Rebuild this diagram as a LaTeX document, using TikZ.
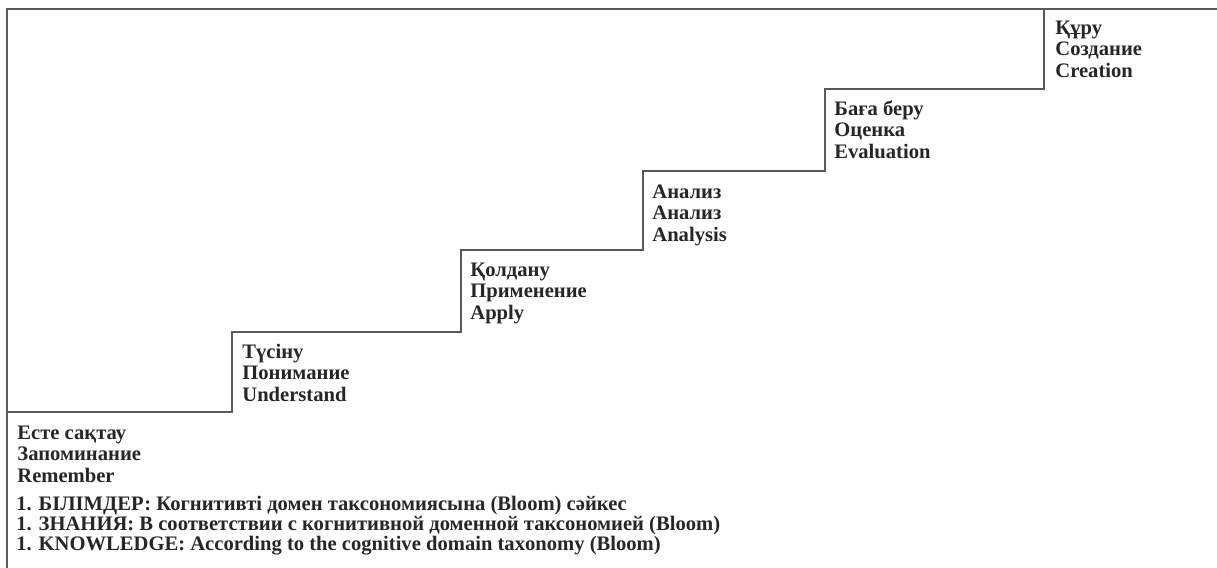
\documentclass[tikz,border=0pt]{standalone}
\usepackage{fontspec}
\setmainfont{Liberation Serif}

\begin{document}
\begin{tikzpicture}[x=0.5pt,y=-0.5pt,
  stair/.style={draw=black!65, line width=1pt},
  lbl/.style={anchor=base west, inner sep=0pt, align=left, text=black!85,
    font=\bfseries\fontsize{10.3}{10.6}\selectfont},
  note/.style={anchor=base west, inner sep=0pt, align=left, text=black!85,
    font=\bfseries\fontsize{10.3}{10}\selectfont}]
 \useasboundingbox (0,0) rectangle (1217,568);
 \draw [stair] (7,568) -- (7,9) -- (1217,9);
 \draw [stair] (7,412) -- (232,412) -- (232,332) -- (461,332) -- (461,250) -- (643,250)
   -- (643,171) -- (825,171) -- (825,89) -- (1044,89) -- (1044,9);
 \node [lbl] (remember) at (17,482) {Есте сақтау\\Запоминание\\Remember};
 \node [lbl] (understand) at (242,401) {Түсіну\\Понимание\\Understand};
 \node [lbl] (apply) at (470,319) {Қолдану\\Применение\\Apply};
 \node [lbl] (analysis) at (652,241) {Анализ\\Анализ\\Analysis};
 \node [lbl] (evaluation) at (834,158) {Баға беру\\Оценка\\Evaluation};
 \node [lbl] (creation) at (1055,77) {Құру\\Создание\\Creation};
 % bottom notes
 \node [note] (knowledge) at (16,550) {1. БІЛІМДЕР: Когнитивті домен таксономиясына (Bloom) сәйкес\\1. ЗНАНИЯ: В соответствии с когнитивной доменной таксономией (Bloom)\\1. KNOWLEDGE: According to the cognitive domain taxonomy (Bloom)};
\end{tikzpicture}
\end{document}
